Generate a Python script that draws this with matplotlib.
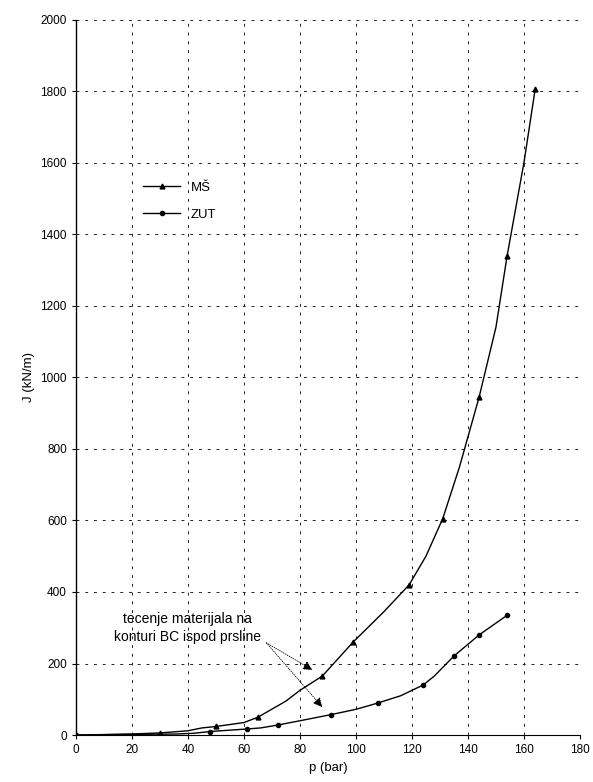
import matplotlib.pyplot as plt
import numpy as np

plt.rcParams['font.family'] = ['Liberation Sans', 'DejaVu Sans']

# MS curve (line vertices, markers where triangles are)
ms_p = [0, 20, 30, 40, 45, 50, 60, 65, 75, 80, 88, 99, 110, 119, 125, 131, 137, 144, 150, 154, 160, 164]
ms_J = [0, 3, 6, 12, 20, 24, 35, 50, 95, 125, 165, 260, 345, 420, 500, 605, 750, 945, 1140, 1340, 1600, 1805]
ms_marks = [0, 2, 5, 7, 10, 11, 13, 15, 17, 19, 21]

# ZUT curve
zut_p = [0, 20, 36, 42, 48, 61, 66, 72, 80, 91, 100, 108, 116, 124, 128, 135, 144, 154]
zut_J = [0, 2, 3, 5, 10, 17, 20, 28, 40, 57, 72, 90, 110, 140, 165, 221, 280, 335]
zut_marks = [0, 4, 5, 7, 9, 11, 13, 15, 16, 17]

fig = plt.figure(figsize=(5.93, 7.82), dpi=100)
ax = fig.add_axes([0.128, 0.060, 0.850, 0.915])

ax.plot(ms_p, ms_J, color='black', lw=1.0, marker='^', ms=3.5,
        markevery=ms_marks, label='MŠ')
ax.plot(zut_p, zut_J, color='black', lw=1.0, marker='o', ms=3,
        markevery=zut_marks, label='ZUT')

ax.set_xlim(0, 180)
ax.set_ylim(0, 2000)
ax.set_xticks(np.arange(0, 181, 20))
ax.set_yticks(np.arange(0, 2001, 200))
ax.grid(True, color='#222222', linestyle=(0, (3, 6)), lw=0.7)
ax.tick_params(labelsize=8.5, length=3, width=0.8)

for s in ['top', 'right']:
    ax.spines[s].set_visible(False)
ax.spines['left'].set_linewidth(1.0)
ax.spines['bottom'].set_linewidth(0.8)

ax.set_xlabel('p (bar)', fontsize=9.5)
ax.set_ylabel('J (kN/m)', fontsize=9.5)

ax.legend(loc='upper left', bbox_to_anchor=(0.11, 0.79), frameon=False,
          fontsize=9.5, handlelength=2.8, labelspacing=1.1)

txt = 'tecenje materijala na\nkonturi BC ispod prsline'
ax.text(40, 300, txt, fontsize=10, ha='center', va='center', linespacing=1.4)
ax.annotate('', xy=(84.5, 182), xytext=(68, 258),
            arrowprops=dict(arrowstyle='-|>', color='black', lw=0.6,
                            linestyle=':', mutation_scale=14,
                            shrinkA=0, shrinkB=0))
ax.annotate('', xy=(88, 78), xytext=(68, 258),
            arrowprops=dict(arrowstyle='-|>', color='black', lw=0.6,
                            linestyle=':', mutation_scale=14,
                            shrinkA=0, shrinkB=0))

fig.savefig('out.png', dpi=100)
